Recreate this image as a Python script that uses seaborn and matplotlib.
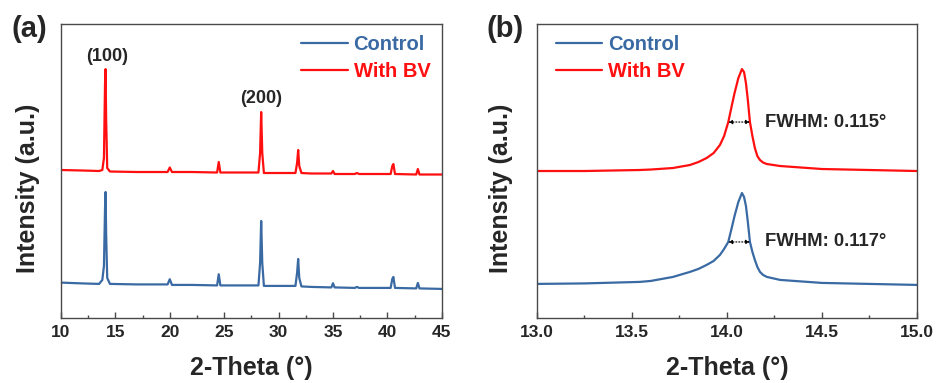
import numpy as np
import pandas as pd
import matplotlib
matplotlib.use("Agg")
import matplotlib.pyplot as plt
import seaborn as sns
from matplotlib.ticker import MultipleLocator

sns.set_style("ticks")
plt.rcParams['font.family'] = ['Liberation Sans', 'DejaVu Sans']
plt.rcParams['font.weight'] = 'bold'

BLUE = "#3a6aa3"
RED = "#ff0f0f"

### panel (a) data (arbitrary intensity units)
a_theta = [10, 12, 13.5, 13.8, 13.95, 14.05, 14.1, 14.15, 14.25, 14.5, 17, 19.8, 20.0, 20.2,
           22, 24.35, 24.5, 24.65, 26, 28.15, 28.3, 28.4, 28.5, 28.65, 30, 31.55, 31.7, 31.8,
           31.9, 32.1, 33, 34.85, 35.0, 35.15, 37.0, 37.2, 37.4, 40.3, 40.45, 40.55, 40.7,
           42.65, 42.8, 42.95, 45]
a_bv = [148, 147.5, 147, 148, 160, 235, 249, 200, 150, 146.5, 146, 146, 150.5, 146,
        146, 145.5, 156, 145.5, 145.5, 145.5, 165, 206, 165, 145, 145, 145, 155, 168,
        152, 145, 144.5, 144.5, 147, 144, 144, 145, 144, 144, 152, 154, 144,
        143.5, 149, 143.5, 143.5]
a_control = [35.3, 34.5, 34, 38, 52, 110, 126, 85, 40, 34, 33.5, 33.5, 38.7, 33,
             33, 32.5, 43.7, 32.5, 32.5, 32.5, 55, 97, 55, 32, 32, 32, 45, 59,
             40, 31.5, 31, 30.5, 34.7, 30.5, 30, 31, 30, 30, 39, 41, 30,
             29.5, 35, 29.5, 29]

### panel (b) data, zoom on the (100) peak
b_theta = [13.0, 13.25, 13.54, 13.6, 13.716, 13.76, 13.805, 13.85, 13.893, 13.93, 13.963,
           13.985, 14.007, 14.025, 14.04, 14.06, 14.079, 14.09, 14.1, 14.11, 14.121, 14.134,
           14.147, 14.16, 14.174, 14.19, 14.21, 14.28, 14.5, 14.75, 15.0]
b_bv = [147, 147, 148, 148.5, 150, 151.5, 153, 156, 160, 165, 173,
        182, 196, 212, 225, 240, 249, 246, 235, 218, 196, 182,
        170, 162, 158, 155.5, 154, 152, 149, 148, 147]
b_control = [34, 34.5, 36, 37, 41, 43.5, 46, 49, 53, 57, 63,
             69, 76, 90, 102, 116, 125, 121, 112, 96, 76, 66,
             58, 51, 46, 43, 41, 38, 35, 34, 33]

fwhm_labels = ["FWHM: 0.115°", "FWHM: 0.117°"]
fwhm_y = [196, 76]
fwhm_x = [(14.007, 14.121), (14.007, 14.121)]

fig = plt.figure(figsize=(9.38, 3.83), dpi=100)
ax1 = fig.add_axes([0.065, 0.170, 0.406, 0.767])
ax2 = fig.add_axes([0.5725, 0.170, 0.405, 0.767])

def style(ax, ylab_x):
    for s in ax.spines.values():
        s.set_color("#4a4a4a")
        s.set_linewidth(1.0)
    ax.set_yticks([])
    ax.tick_params(axis='x', direction='in', length=4, width=1, color="#4a4a4a",
                   labelsize=12.5, pad=5)
    ax.tick_params(axis='x', which='minor', direction='in', length=2.5, width=1, color="#4a4a4a")
    for lab in ax.get_xticklabels():
        lab.set_fontweight('bold')
    ax.set_ylim(0, 294)
    ax.set_xlabel("2-Theta (°)", fontsize=18, fontweight='bold', labelpad=11.5)
    ax.set_ylabel("Intensity (a.u.)", fontsize=18, fontweight='bold')
    ax.yaxis.set_label_coords(ylab_x, 0.442)

leg_kw = dict(frameon=False, handlelength=2.3, labelcolor='linecolor',
              prop={'weight': 'bold', 'size': 14.5}, handletextpad=0.3,
              labelspacing=0.38, borderaxespad=0.0, borderpad=0.0)

### (a)
sns.lineplot(x=a_theta, y=a_control, ax=ax1, color=BLUE, lw=1.6, label="Control")
sns.lineplot(x=a_theta, y=a_bv, ax=ax1, color=RED, lw=1.6, label="With BV")
ax1.set_xlim(10, 45)
ax1.xaxis.set_major_locator(MultipleLocator(5))
ax1.xaxis.set_minor_locator(MultipleLocator(2.5))
style(ax1, -0.055)
ax1.text(14.2, 262, "(100)", ha='center', va='center', fontsize=13, fontweight='bold')
ax1.text(28.4, 220, "(200)", ha='center', va='center', fontsize=13, fontweight='bold')
ax1.legend(loc='upper right', bbox_to_anchor=(0.97, 0.962), **leg_kw)
fig.text(0.012, 0.925, "(a)", fontsize=21, fontweight='bold', va='center')

### (b)
sns.lineplot(x=b_theta, y=b_control, ax=ax2, color=BLUE, lw=1.6, label="Control")
sns.lineplot(x=b_theta, y=b_bv, ax=ax2, color=RED, lw=1.6, label="With BV")
ax2.set_xlim(13, 15)
ax2.xaxis.set_major_locator(MultipleLocator(0.5))
ax2.xaxis.set_minor_locator(MultipleLocator(0.25))
ax2.xaxis.set_major_formatter(matplotlib.ticker.FormatStrFormatter('%.1f'))
style(ax2, -0.063)
ax2.legend(loc='upper left', bbox_to_anchor=(0.05, 0.962), **leg_kw)
for lab, y, (x0, x1) in zip(fwhm_labels, fwhm_y, fwhm_x):
    ax2.annotate("", xy=(x0, y), xytext=(x1, y),
                 arrowprops=dict(arrowstyle='<|-|>', color='black', lw=0.8, ls=':',
                                 mutation_scale=6, shrinkA=0, shrinkB=0))
    ax2.text(x1 + 0.08, y, lab, ha='left', va='center', fontsize=13.3, fontweight='bold')
fig.text(0.519, 0.925, "(b)", fontsize=21, fontweight='bold', va='center')

plt.savefig("out.png", dpi=100)
